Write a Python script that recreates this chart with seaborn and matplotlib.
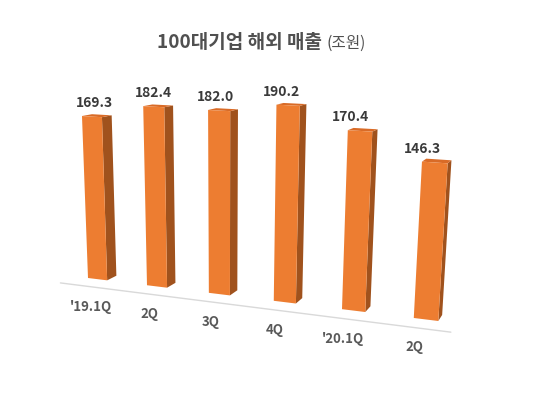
import numpy as np
import pandas as pd
import matplotlib
matplotlib.use("Agg")
import matplotlib.pyplot as plt
from matplotlib.transforms import Transform
from matplotlib.patches import Polygon
import seaborn as sns

#-------------------------------
# data
#-------------------------------
quarters = ["'19.1Q", "2Q", "3Q", "4Q", "'20.1Q", "2Q"]
sales = [169.3, 182.4, 182.0, 190.2, 170.4, 146.3]
title_main = "100대기업 해외 매출"
title_unit = "(조원)"

df = pd.DataFrame({"slot": np.arange(len(sales)), "sales": sales})

#-------------------------------
# fake 3D look (Excel style perspective)
#-------------------------------
FIG_W, FIG_H = 534, 410
BAR_W = 0.33
DEPTH = 1.0
# rows -> X, Y, W in image pixels; columns -> 1, x, value, depth
CAM = np.array([
    [97.17, 55.6, -0.056, 11.2],
    [279.1, 0.63, -0.986, 0.3],
    [0.9962, -0.0231, -0.00025, 0.0177],
])

FRONT = "#ED7D31"
SIDE = "#A0521D"
TOP = "#D96B27"


def project(x, v, z):
    x, v, z = np.broadcast_arrays(np.asarray(x, float), np.asarray(v, float),
                                  np.asarray(z, float))
    pts = np.stack([np.ones(x.size), x.ravel(), v.ravel(), z.ravel()])
    X, Y, W = CAM @ pts
    return np.column_stack([X / W / FIG_W, 1 - Y / W / FIG_H])


class Plane(Transform):
    """data (x, value) at fixed depth -> figure fraction"""
    input_dims = output_dims = 2

    def __init__(self, z=0.0):
        super().__init__()
        self.z = z

    def transform_non_affine(self, values):
        values = np.asarray(values, float).reshape(-1, 2)
        return project(values[:, 0], values[:, 1], self.z)


sns.set_theme(style="white")
plt.rcParams["font.family"] = ["Noto Sans CJK KR", "DejaVu Sans"]

fig = plt.figure(figsize=(FIG_W / 100, FIG_H / 100), dpi=100)
ax = fig.add_axes([0, 0, 1, 1])

sns.barplot(data=df, x="slot", y="sales", width=BAR_W, color=FRONT,
            saturation=1, errorbar=None, linewidth=0, ax=ax)

front = Plane(0.0) + fig.transFigure

# floor edge in front of the bars
ax.plot([-0.4, 5.4], [0, 0], color="#D9D9D9", lw=1.0,
        transform=Plane(-1.4) + fig.transFigure, clip_on=False, zorder=1)

for i, p in enumerate(list(ax.patches)):
    x0, w, h = p.get_x(), p.get_width(), p.get_height()
    x1 = x0 + w
    side = project([x1, x1, x1, x1], [0, 0, h, h], [0, DEPTH, DEPTH, 0])
    top = project([x0, x1, x1, x0], [h, h, h, h], [0, 0, DEPTH, DEPTH])
    ax.add_patch(Polygon(side, closed=True, facecolor=SIDE, edgecolor="none",
                         transform=fig.transFigure, clip_on=False, zorder=2))
    ax.add_patch(Polygon(top, closed=True, facecolor=TOP, edgecolor="none",
                         transform=fig.transFigure, clip_on=False, zorder=2))
    p.set_transform(front)
    p.set_clip_on(False)
    p.set_zorder(3)

    xc = x0 + w / 2
    ax.annotate(f"{sales[i]:.1f}", xy=(xc, h), xycoords=front,
                xytext=(2.3 - 3.0 * i, 14.5), textcoords="offset pixels",
                ha="center", va="center", fontsize=10, fontweight="bold",
                color="#3A3A3A", annotation_clip=False)
    ax.annotate(quarters[i], xy=(xc, 0), xycoords=front,
                xytext=(-6.5 - 1.1 * i, -27), textcoords="offset pixels",
                ha="center", va="center", fontsize=9.5, fontweight="bold",
                color="#595959", annotation_clip=False)

ax.set_axis_off()

# title
t = fig.text(157 / FIG_W, 1 - 42 / FIG_H, title_main, ha="left", va="center",
             fontsize=13.7, fontweight="bold", color="#505050")
ax.annotate(title_unit, xy=(1, 0.45), xycoords=t, xytext=(4, 0),
            textcoords="offset pixels", ha="left", va="center",
            fontsize=11.3, color="#505050", annotation_clip=False)

fig.savefig("out.png", dpi=100, facecolor="white")
